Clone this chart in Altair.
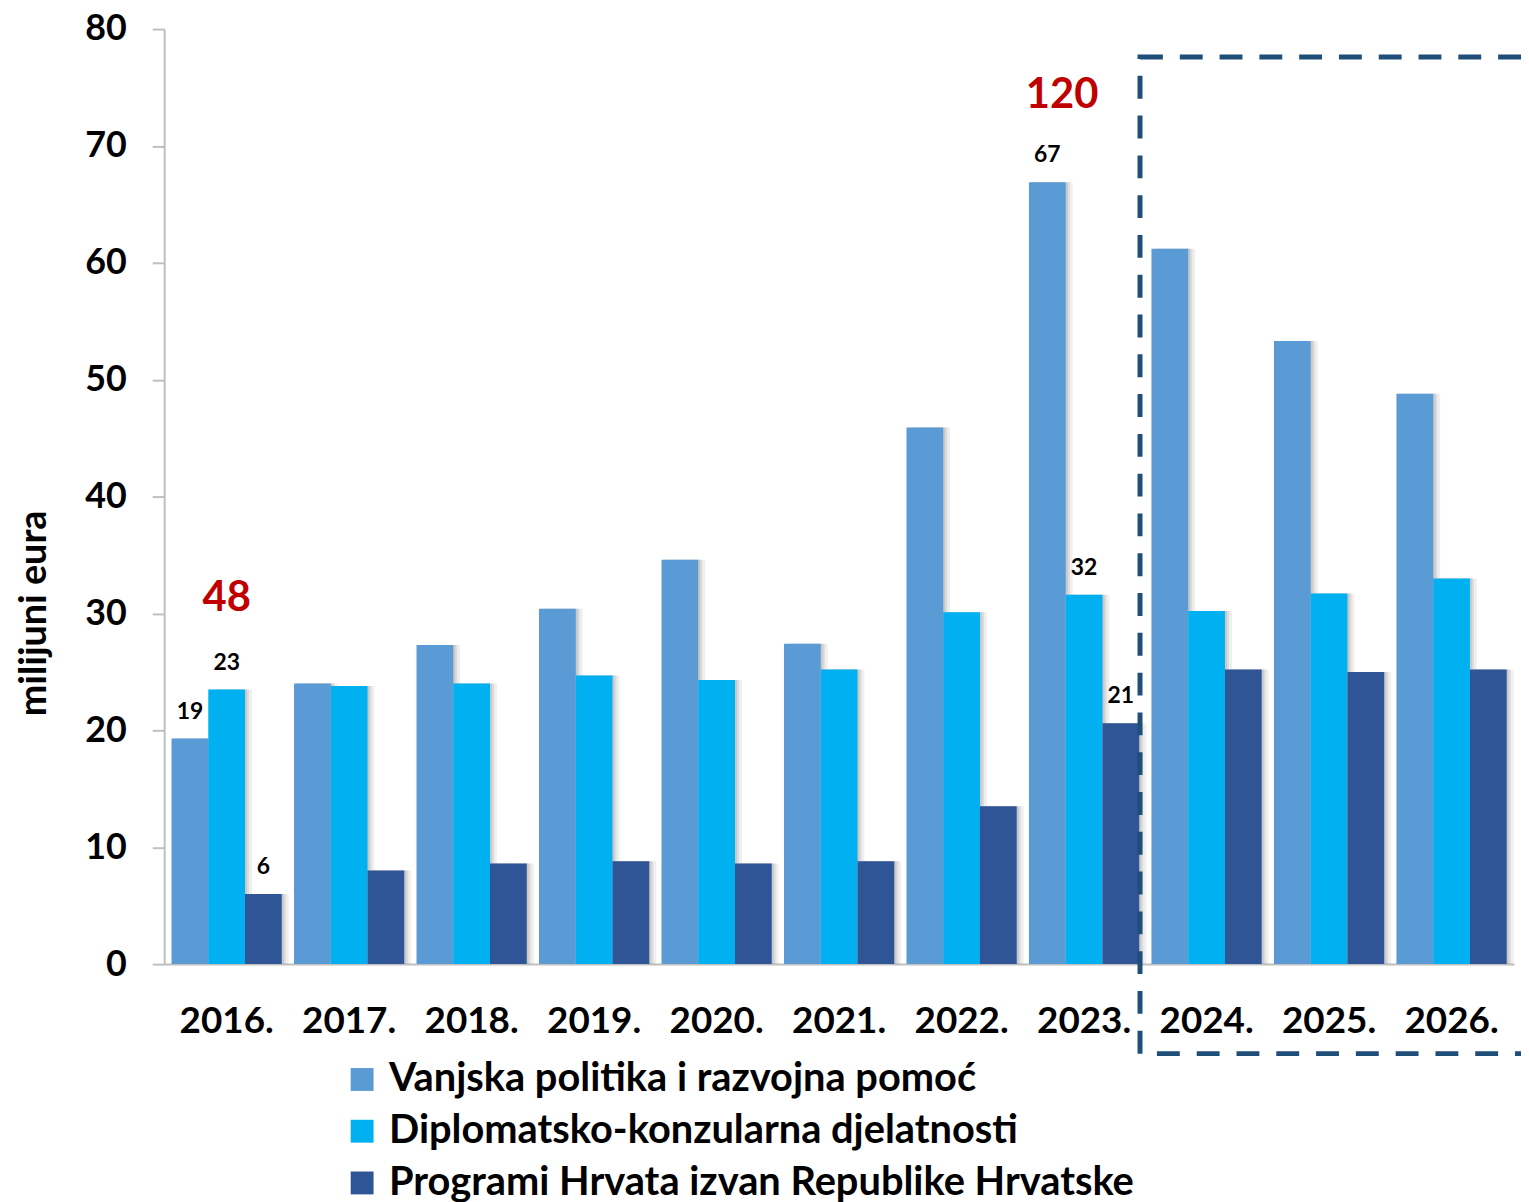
import altair as alt
import pandas as pd

years = ["2016.", "2017.", "2018.", "2019.", "2020.", "2021.", "2022.", "2023.", "2024.", "2025.", "2026."]
series = [
    "Vanjska politika i razvojna pomoć",
    "Diplomatsko-konzularna djelatnosti",
    "Programi Hrvata izvan Republike Hrvatske",
]
vanjska = [19.3, 24.0, 27.3, 30.4, 34.6, 27.4, 45.9, 66.9, 61.2, 53.3, 48.8]
diplomatsko = [23.5, 23.8, 24.0, 24.7, 24.3, 25.2, 30.1, 31.6, 30.2, 31.7, 33.0]
programi = [6.0, 8.0, 8.6, 8.8, 8.6, 8.8, 13.5, 20.6, 25.2, 25.0, 25.2]
colors = ["#5B9BD5", "#00B0F0", "#2F5597"]

label_years = ["2016.", "2016.", "2016.", "2023.", "2023.", "2023."]
label_series = [0, 1, 2, 0, 1, 2]
label_texts = ["19", "23", "6", "67", "32", "21"]

total_years = ["2016.", "2023."]
total_texts = ["48", "120"]

FONT = "Lato"
values_by_series = [vanjska, diplomatsko, programi]

rows = []
for i, y in enumerate(years):
    for s, vals in zip(series, values_by_series):
        rows.append({"year": y, "series": s, "value": vals[i]})
df = pd.DataFrame(rows)

lab_rows = []
for y, si, t in zip(label_years, label_series, label_texts):
    i = years.index(y)
    lab_rows.append({"year": y, "series": series[si], "value": values_by_series[si][i], "text": t})
df_lab = pd.DataFrame(lab_rows)

tot_rows = []
for y, t in zip(total_years, total_texts):
    i = years.index(y)
    tot_rows.append({"year": y, "top": max(v[i] for v in values_by_series), "text": t})
df_tot = pd.DataFrame(tot_rows)

x_enc = alt.X(
    "year:N",
    sort=years,
    scale=alt.Scale(paddingInner=0.1, paddingOuter=0.06),
    axis=alt.Axis(
        title=None, labelAngle=0, labelFontSize=37, labelFont=FONT, labelFontWeight="bold",
        labelColor="black", labelPadding=40, ticks=False, domainColor="#BFBFBF", domainWidth=2,
    ),
)
y_scale = alt.Scale(domain=[0, 80], nice=False)
y_axis = alt.Axis(
    values=list(range(0, 81, 10)), grid=False, title="milijuni eura",
    titleFontSize=38, titleFont=FONT, titleFontWeight="bold", titleColor="black",
    titleX=-130, titleY=587, titleAlign="center", titleBaseline="middle", titleAngle=270,
    labelFontSize=36, labelFont=FONT, labelFontWeight="bold", labelColor="black",
    labelPadding=26, tickSize=12, tickColor="#BFBFBF", tickWidth=2,
    domainColor="#BFBFBF", domainWidth=2,
)
xoff = alt.XOffset("series:N", sort=series)
y_val = alt.Y("value:Q", scale=y_scale, axis=y_axis)


def shadow(shift, op):
    return alt.Chart(df).mark_bar(color="#7F7F7F", opacity=op).encode(
        x=x_enc,
        xOffset=alt.XOffset(
            "series:N", sort=series,
            scale=alt.Scale(range=[{"expr": str(shift)}, {"expr": "bandwidth('x') + %d" % shift}]),
        ),
        y=y_val,
    )


bars = alt.Chart(df).mark_bar().encode(
    x=x_enc,
    xOffset=xoff,
    y=y_val,
    color=alt.Color(
        "series:N",
        sort=series,
        scale=alt.Scale(domain=series, range=colors),
        legend=alt.Legend(
            orient="none", legendX=179, legendY=1036, title=None, direction="vertical",
            labelFontSize=40, labelFont=FONT, labelFontWeight="bold", labelColor="black",
            symbolType="square", symbolSize=529, symbolStrokeWidth=0, rowPadding=12,
            labelOffset=7, padding=0, labelLimit=0,
        ),
    ),
)

labels = alt.Chart(df_lab).mark_text(
    font=FONT, fontWeight="bold", fontSize=23, color="black", baseline="middle", dy=-27
).encode(
    x=x_enc,
    xOffset=xoff,
    y=alt.Y("value:Q", scale=y_scale),
    text="text:N",
)

totals_a = alt.Chart(df_tot).transform_filter(alt.datum.year == "2016.").mark_text(
    font=FONT, fontWeight="bold", fontSize=42, color="#C00000", baseline="middle", dy=-92
).encode(
    x=x_enc,
    y=alt.Y("top:Q", scale=y_scale),
    text="text:N",
)
totals_b = alt.Chart(df_tot).transform_filter(alt.datum.year == "2023.").mark_text(
    font=FONT, fontWeight="bold", fontSize=42, color="#C00000", baseline="middle", dy=-88, dx=-22
).encode(
    x=x_enc,
    y=alt.Y("top:Q", scale=y_scale),
    text="text:N",
)

box = alt.Chart(pd.DataFrame({"a": [0]})).mark_rect(
    filled=False, stroke="#1F4E79", strokeWidth=5, strokeDash=[23, 17]
).encode(
    x=alt.value(981), x2=alt.value(1420), y=alt.value(28), y2=alt.value(1030)
)

chart = alt.layer(
    shadow(7, 0.12), shadow(4, 0.18), shadow(2, 0.2), bars, labels, totals_a, totals_b, box
).resolve_scale(xOffset="independent").properties(
    width=1357,
    height=940,
    padding={"left": 157, "top": 18, "right": 7, "bottom": 236},
    autosize=alt.AutoSizeParams(type="none"),
).configure_view(stroke=None)

chart.save("out.html", embed_options={"renderer": "svg", "actions": False})
